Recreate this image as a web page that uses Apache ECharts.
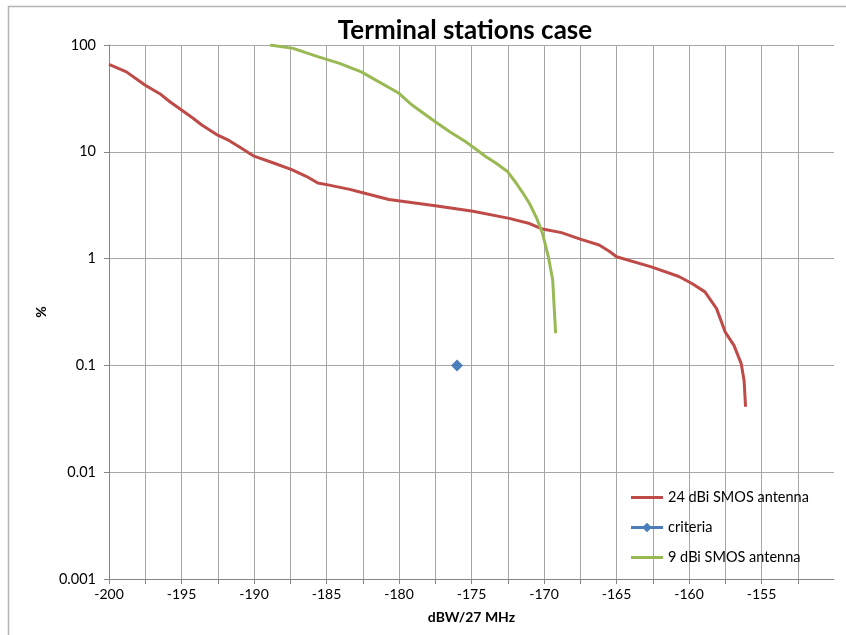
<!DOCTYPE html>
<html>
<head>
<meta charset="utf-8">
<script src="https://cdn.jsdelivr.net/npm/echarts@6/dist/echarts.min.js"></script>
<style>html,body{margin:0;padding:0;background:#fff;}#c{width:846px;height:635px;}</style>
</head>
<body>
<div id="c"></div>
<script>
// Data
var xTickValues = [-200, -195, -190, -185, -180, -175, -170, -165, -160, -155];
var yTickLabels = ['0.001', '0.01', '0.1', '1', '10', '100'];

var ant24X = [-200, -198.8, -197.5, -196.5, -195.8, -195, -194.2, -193.6, -192.5, -191.7, -191, -190, -188.7, -187.4, -186.4, -185.6, -184.9, -183.4, -182.7, -180.7, -177.5, -174.9, -172.4, -171.0, -170.1, -168.8, -167.5, -166.2, -165.5, -165.0, -162.6, -160.7, -159.8, -158.9, -158.1, -157.5, -156.9, -156.4, -156.2, -156.1];
var ant24Y = [65.9, 56, 42, 35, 29.4, 24.6, 20.6, 17.8, 14.3, 12.7, 11.1, 9.1, 7.9, 6.8, 5.9, 5.1, 4.9, 4.45, 4.2, 3.58, 3.12, 2.78, 2.38, 2.13, 1.89, 1.75, 1.52, 1.34, 1.17, 1.04, 0.836, 0.68, 0.585, 0.488, 0.34, 0.205, 0.154, 0.104, 0.072, 0.041];

var criteriaX = [-176];
var criteriaY = [0.1];

var ant9X = [-188.9, -187.3, -185.6, -184.1, -182.6, -180, -179.1, -177.5, -176.5, -175.4, -174.9, -174.0, -173.3, -172.5, -171.9, -171.5, -171.0, -170.5, -170.1, -169.7, -169.4, -169.3, -169.2];
var ant9Y = [100, 93, 77.8, 67.3, 56, 35.3, 27.4, 19.1, 15.4, 12.4, 11.1, 9.0, 7.8, 6.5, 5.05, 4.2, 3.28, 2.38, 1.72, 1.04, 0.63, 0.355, 0.2];

function pairs(xs, ys) { return xs.map(function (x, i) { return [x, ys[i]]; }); }

// legend icons: thin line (with invisible corner specks to fix the box), line + diamond
var ICON_LINE = 'path://M0,0 L0.01,0 L0,0.01 Z M0,5.5 L32,5.5 L32,8.5 L0,8.5 Z M32,14 L31.99,14 L32,13.99 Z';
var ICON_DIAMOND = 'path://M0,0 L0.01,0 L0,0.01 Z M0,5.5 L32,5.5 L32,8.5 L0,8.5 Z M16,2.2 L20.8,7 L16,11.8 L11.2,7 Z M32,14 L31.99,14 L32,13.99 Z';

var FONT = 'Lato';
var chart = echarts.init(document.getElementById('c'), null, { renderer: 'canvas' });
chart.setOption({
  backgroundColor: '#ffffff',
  animation: false,
  textStyle: { fontFamily: FONT },
  title: {
    text: 'Terminal stations case',
    left: 460, top: 13, textAlign: 'center',
    textStyle: { fontFamily: FONT, fontSize: 26, fontWeight: 'bold', color: '#000' }
  },
  graphic: [{
    type: 'rect', silent: true, z: -1,
    shape: { x: 8.5, y: 6.5, width: 900, height: 700 },
    style: { fill: 'none', stroke: '#b4b4b4', lineWidth: 1.5 }
  }],
  grid: { left: 109, right: 12, top: 45, bottom: 56 },
  legend: {
    orient: 'vertical', left: 626, top: 485, itemWidth: 32, itemHeight: 14, itemGap: 15,
    textStyle: { fontFamily: FONT, fontSize: 14.5, color: '#000' },
    data: [
      { name: '24 dBi SMOS antenna', icon: ICON_LINE },
      { name: 'criteria', icon: ICON_DIAMOND },
      { name: '9 dBi SMOS antenna', icon: ICON_LINE }
    ]
  },
  xAxis: {
    type: 'value', min: -200, max: -150, interval: 2.5,
    name: 'dBW/27 MHz', nameLocation: 'middle', nameGap: 31,
    nameTextStyle: { fontFamily: FONT, fontSize: 14, fontWeight: 'bold', color: '#000' },
    axisLine: { show: true, onZero: false, lineStyle: { color: '#868686', width: 1 } },
    axisTick: { show: true, length: 5, lineStyle: { color: '#868686' } },
    axisLabel: {
      fontFamily: FONT, fontSize: 14, color: '#000', margin: 8, showMaxLabel: false,
      formatter: function (v) { return xTickValues.indexOf(v) >= 0 ? String(v) : ''; }
    },
    splitLine: { show: true, showMaxLine: false, lineStyle: { color: '#a6a6a6', width: 1 } }
  },
  yAxis: {
    type: 'log', logBase: 10, min: 0.001, max: 100,
    name: '%', nameLocation: 'middle', nameGap: 58, nameRotate: 90,
    nameTextStyle: { fontFamily: FONT, fontSize: 14, fontWeight: 'bold', color: '#000' },
    axisLine: { show: true, lineStyle: { color: '#868686', width: 1 } },
    axisTick: { show: true, length: 5, lineStyle: { color: '#868686' } },
    axisLabel: {
      fontFamily: FONT, fontSize: 14.5, color: '#000', margin: 13,
      formatter: function (v) {
        var e = Math.round(Math.log10(v));
        return yTickLabels[e + 3];
      }
    },
    splitLine: { show: true, lineStyle: { color: '#a6a6a6', width: 1 } }
  },
  series: [
    {
      name: '24 dBi SMOS antenna', type: 'line', data: pairs(ant24X, ant24Y),
      symbol: 'none', lineStyle: { color: '#BE4B48', width: 3 }, itemStyle: { color: '#BE4B48' }, z: 3
    },
    {
      name: 'criteria', type: 'line', data: pairs(criteriaX, criteriaY),
      symbol: 'diamond', symbolSize: 12, showSymbol: true,
      lineStyle: { color: '#4A7EBB', width: 3 }, itemStyle: { color: '#4A7EBB' }, z: 4
    },
    {
      name: '9 dBi SMOS antenna', type: 'line', data: pairs(ant9X, ant9Y),
      symbol: 'none', lineStyle: { color: '#98B954', width: 3 }, itemStyle: { color: '#98B954' }, z: 3
    }
  ]
});
</script>
</body>
</html>
